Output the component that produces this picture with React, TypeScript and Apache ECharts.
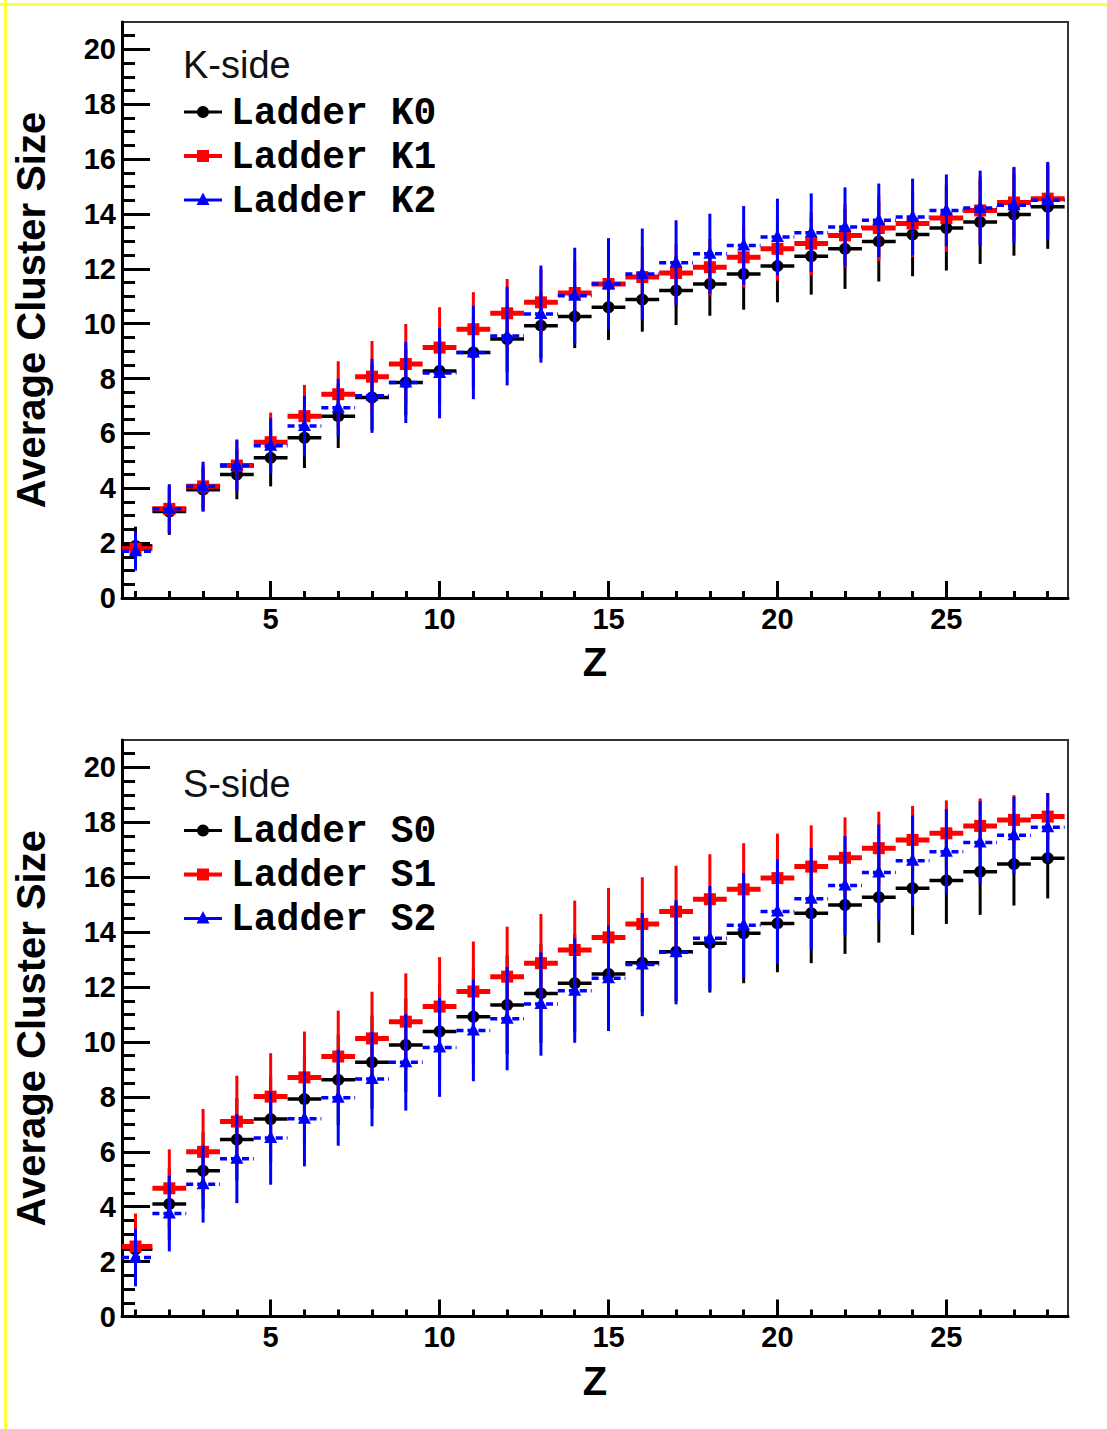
import React, { useEffect, useRef } from 'react';
import * as echarts from 'echarts';

// ---------- data ----------
const Z = [1, 2, 3, 4, 5, 6, 7, 8, 9, 10, 11, 12, 13, 14, 15, 16, 17, 18, 19, 20, 21, 22, 23, 24, 25, 26, 27, 28];

const K0 = [1.9, 3.15, 3.95, 4.5, 5.11, 5.84, 6.63, 7.31, 7.86, 8.28, 8.95, 9.44, 9.93, 10.26, 10.6, 10.88, 11.21, 11.45, 11.81, 12.1, 12.46, 12.73, 13.0, 13.25, 13.49, 13.71, 13.98, 14.26];
const K0_ERR = [0.7, 0.85, 0.8, 0.9, 1.04, 1.1, 1.16, 1.2, 1.2, 1.25, 1.25, 1.2, 1.2, 1.15, 1.19, 1.17, 1.26, 1.16, 1.3, 1.32, 1.4, 1.46, 1.46, 1.52, 1.55, 1.53, 1.5, 1.53];
const K1 = [1.8, 3.25, 4.07, 4.83, 5.68, 6.63, 7.43, 8.07, 8.53, 9.13, 9.8, 10.38, 10.78, 11.12, 11.45, 11.7, 11.85, 12.06, 12.42, 12.73, 12.92, 13.22, 13.49, 13.65, 13.85, 14.13, 14.42, 14.56];
const K1_ERR = [0.6, 0.85, 0.8, 0.9, 1.08, 1.14, 1.2, 1.3, 1.46, 1.47, 1.35, 1.25, 1.2, 1.15, 1.1, 1.1, 1.05, 1.03, 1.1, 1.16, 1.16, 1.16, 1.2, 1.22, 1.24, 1.25, 1.3, 1.3];
const K2 = [1.7, 3.25, 4.07, 4.83, 5.55, 6.27, 6.94, 7.37, 7.86, 8.2, 8.95, 9.55, 10.35, 11.02, 11.45, 11.81, 12.22, 12.55, 12.85, 13.16, 13.32, 13.53, 13.77, 13.89, 14.13, 14.22, 14.32, 14.5];
const K2_ERR = [0.7, 0.9, 0.9, 0.95, 1.0, 1.1, 1.05, 1.35, 1.48, 1.65, 1.7, 1.8, 1.77, 1.75, 1.67, 1.66, 1.55, 1.46, 1.44, 1.4, 1.43, 1.44, 1.34, 1.4, 1.31, 1.36, 1.38, 1.4];

const S0 = [2.45, 4.1, 5.31, 6.45, 7.19, 7.92, 8.62, 9.26, 9.89, 10.38, 10.92, 11.35, 11.77, 12.14, 12.48, 12.89, 13.29, 13.6, 13.96, 14.32, 14.69, 14.99, 15.27, 15.6, 15.88, 16.2, 16.48, 16.69];
const S0_ERR = [1.0, 1.3, 1.4, 1.5, 1.55, 1.6, 1.65, 1.7, 1.7, 1.75, 1.75, 1.8, 1.8, 1.8, 1.8, 1.8, 1.8, 1.8, 1.82, 1.78, 1.82, 1.78, 1.65, 1.7, 1.58, 1.57, 1.51, 1.46];
const S1 = [2.55, 4.67, 6.0, 7.1, 8.01, 8.71, 9.47, 10.13, 10.74, 11.29, 11.84, 12.38, 12.87, 13.35, 13.81, 14.3, 14.75, 15.2, 15.56, 15.97, 16.39, 16.71, 17.06, 17.36, 17.6, 17.87, 18.09, 18.21];
const S1_ERR = [1.2, 1.42, 1.56, 1.67, 1.58, 1.67, 1.67, 1.7, 1.76, 1.8, 1.82, 1.82, 1.79, 1.8, 1.8, 1.7, 1.67, 1.64, 1.68, 1.62, 1.5, 1.47, 1.33, 1.24, 1.2, 1.0, 0.9, 0.85];
const S2 = [2.15, 3.75, 4.82, 5.75, 6.5, 7.2, 7.97, 8.65, 9.26, 9.8, 10.42, 10.85, 11.38, 11.87, 12.32, 12.82, 13.27, 13.78, 14.25, 14.75, 15.22, 15.7, 16.17, 16.6, 16.93, 17.27, 17.53, 17.82];
const S2_ERR = [1.05, 1.38, 1.4, 1.62, 1.7, 1.73, 1.75, 1.72, 1.76, 1.8, 1.85, 1.88, 1.88, 1.9, 1.92, 1.88, 1.9, 1.9, 1.9, 1.9, 1.85, 1.8, 1.75, 1.65, 1.55, 1.5, 1.4, 1.25];

const X_MAJOR = [5, 10, 15, 20, 25];
const X_MINOR = [1, 2, 3, 4, 5, 6, 7, 8, 9, 10, 11, 12, 13, 14, 15, 16, 17, 18, 19, 20, 21, 22, 23, 24, 25, 26, 27, 28];
const Y_MAJOR = [0, 2, 4, 6, 8, 10, 12, 14, 16, 18, 20];
const Y_MINOR = [0.5, 1, 1.5, 2.5, 3, 3.5, 4.5, 5, 5.5, 6.5, 7, 7.5, 8.5, 9, 9.5, 10.5, 11, 11.5, 12.5, 13, 13.5, 14.5, 15, 15.5, 16.5, 17, 17.5, 18.5, 19, 19.5, 20.5];

const TOP_TITLE = 'K-side';
const TOP_NAMES = ['Ladder K0', 'Ladder K1', 'Ladder K2'];
const BOT_TITLE = 'S-side';
const BOT_NAMES = ['Ladder S0', 'Ladder S1', 'Ladder S2'];
const X_TITLE = 'Z';
const Y_TITLE = 'Average Cluster Size';

// ---------- styles ----------
const XMIN = 0.6;
const XMAX = 28.6;
const SANS = '"Liberation Sans", Arial, Helvetica, sans-serif';
const MONO = '"Courier New", "Liberation Mono", monospace';

type Kind = 'circle' | 'square' | 'triangle';
const STYLES: { color: string; kind: Kind; width: number; dash: number[] | null }[] = [
  { color: '#000000', kind: 'circle', width: 3.5, dash: null },
  { color: '#ff0000', kind: 'square', width: 5, dash: null },
  { color: '#0000ff', kind: 'triangle', width: 3.5, dash: [7, 4] },
];

function marker(kind: Kind, cx: number, cy: number, color: string): any {
  if (kind === 'circle') return { type: 'circle', shape: { cx, cy, r: 6 }, style: { fill: color } };
  if (kind === 'square')
    return { type: 'rect', shape: { x: cx - 6, y: cy - 6, width: 12, height: 12 }, style: { fill: color } };
  return {
    type: 'polygon',
    shape: { points: [[cx, cy - 7.5], [cx - 6.5, cy + 5], [cx + 6.5, cy + 5]] },
    style: { fill: color },
  };
}

function makeSeries(vals: number[], errs: number[], si: number, grid: number): any {
  const st = STYLES[si];
  return {
    type: 'custom',
    xAxisIndex: grid * 2,
    yAxisIndex: grid * 2,
    z: 10 + si,
    encode: { x: 0, y: 1 },
    data: Z.map((z, i) => [z, vals[i], errs[i]]),
    renderItem: (params: any, api: any) => {
      const x = api.value(0);
      const y = api.value(1);
      const e = api.value(2);
      const pL = api.coord([Math.max(x - 0.5, XMIN), y]);
      const pR = api.coord([Math.min(x + 0.5, XMAX), y]);
      const pC = api.coord([x, y]);
      const pT = api.coord([x, y + e]);
      const pB = api.coord([x, y - e]);
      const hStyle: any = { stroke: st.color, lineWidth: st.width };
      if (st.dash) hStyle.lineDash = st.dash;
      return {
        type: 'group',
        children: [
          { type: 'line', shape: { x1: pL[0], y1: pL[1], x2: pR[0], y2: pR[1] }, style: hStyle },
          { type: 'line', shape: { x1: pT[0], y1: pT[1], x2: pB[0], y2: pB[1] }, style: { stroke: st.color, lineWidth: 3 } },
          marker(st.kind, pC[0], pC[1], st.color),
        ],
      };
    },
  };
}

function legend(title: string, names: string[], dy: number): any[] {
  const out: any[] = [
    {
      type: 'text',
      left: 183,
      top: 68 + dy - 22,
      style: { text: title, font: `38px ${SANS}`, fill: '#111', textVerticalAlign: 'top' },
    },
  ];
  const ys = [112, 156, 200];
  names.forEach((n, i) => {
    const st = STYLES[i];
    const y = ys[i] + dy;
    out.push({ type: 'line', shape: { x1: 184, y1: y, x2: 222, y2: y }, style: { stroke: st.color, lineWidth: i === 1 ? 4 : 3 } });
    out.push(marker(st.kind, 203, y, st.color));
    out.push({
      type: 'text',
      x: 231,
      y: y + 1,
      style: { text: n, font: `bold 38px ${MONO}`, fill: '#000', verticalAlign: 'middle', align: 'left' },
    });
  });
  return out;
}

function axesFor(grid: number) {
  const xMajor = {
    gridIndex: grid,
    type: 'value',
    min: XMIN,
    max: XMAX,
    position: 'bottom',
    axisLine: { show: true, onZero: false, lineStyle: { color: '#000', width: 3 } },
    axisTick: { show: true, inside: true, length: 17, customValues: X_MAJOR, lineStyle: { color: '#000', width: 3 } },
    axisLabel: {
      show: true,
      customValues: X_MAJOR,
      margin: 6,
      fontSize: 29,
      fontWeight: 'bold',
      fontFamily: SANS,
      color: '#000',
      lineHeight: 29,
    },
    splitLine: { show: false },
    name: X_TITLE,
    nameLocation: 'middle',
    nameGap: 44,
    nameTextStyle: { fontSize: 40, fontWeight: 'bold', fontFamily: SANS, color: '#000' },
  };
  const xMinor = {
    gridIndex: grid,
    type: 'value',
    min: XMIN,
    max: XMAX,
    position: 'bottom',
    axisLine: { show: false, onZero: false },
    axisTick: { show: true, inside: true, length: 7, customValues: X_MINOR, lineStyle: { color: '#000', width: 3 } },
    axisLabel: { show: false },
    splitLine: { show: false },
  };
  const yMajor = {
    gridIndex: grid,
    type: 'value',
    min: 0,
    max: 21,
    position: 'left',
    axisLine: { show: true, onZero: false, lineStyle: { color: '#000', width: 3 } },
    axisTick: { show: true, inside: true, length: 28, customValues: Y_MAJOR, lineStyle: { color: '#000', width: 3 } },
    axisLabel: {
      show: true,
      customValues: Y_MAJOR,
      margin: 6,
      fontSize: 29,
      fontWeight: 'bold',
      fontFamily: SANS,
      color: '#000',
    },
    splitLine: { show: false },
    name: Y_TITLE,
    nameLocation: 'middle',
    nameGap: 71,
    nameTextStyle: { fontSize: 40, fontWeight: 'bold', fontFamily: SANS, color: '#000' },
  };
  const yMinor = {
    gridIndex: grid,
    type: 'value',
    min: 0,
    max: 21,
    position: 'left',
    offset: 0,
    axisLine: { show: false, onZero: false },
    axisTick: { show: true, inside: true, length: 13, customValues: Y_MINOR, lineStyle: { color: '#000', width: 3 } },
    axisLabel: { show: false },
    splitLine: { show: false },
  };
  return { x: [xMajor, xMinor], y: [yMajor, yMinor] };
}

export default function App() {
  const ref = useRef<HTMLDivElement>(null);
  useEffect(() => {
    if (!ref.current) return;
    const chart = echarts.init(ref.current, null, { renderer: 'svg' });
    const a0 = axesFor(0);
    const a1 = axesFor(1);
    const option: any = {
      animation: false,
      backgroundColor: '#ffffff',
      grid: [
        { left: 122, right: 39, top: 22, height: 576, show: true, borderColor: '#333', borderWidth: 2 },
        { left: 122, right: 39, top: 740, height: 576.5, show: true, borderColor: '#333', borderWidth: 2 },
      ],
      xAxis: [...a0.x, ...a1.x],
      yAxis: [...a0.y, ...a1.y],
      series: [
        makeSeries(K0, K0_ERR, 0, 0),
        makeSeries(K1, K1_ERR, 1, 0),
        makeSeries(K2, K2_ERR, 2, 0),
        makeSeries(S0, S0_ERR, 0, 1),
        makeSeries(S1, S1_ERR, 1, 1),
        makeSeries(S2, S2_ERR, 2, 1),
      ],
      graphic: [
        { type: 'rect', shape: { x: 0, y: 3, width: 1107, height: 3 }, style: { fill: '#ffff40' }, silent: true },
        { type: 'rect', shape: { x: 4, y: 0, width: 3, height: 1429 }, style: { fill: '#ffff40' }, silent: true },
        ...legend(TOP_TITLE, TOP_NAMES, 0),
        ...legend(BOT_TITLE, BOT_NAMES, 718.5),
      ],
    };
    chart.setOption(option);
    return () => chart.dispose();
  }, []);
  return (
    <div
      ref={ref}
      style={{ position: 'absolute', left: 0, top: 0, width: 1107, height: 1429, background: '#fff' }}
    />
  );
}
